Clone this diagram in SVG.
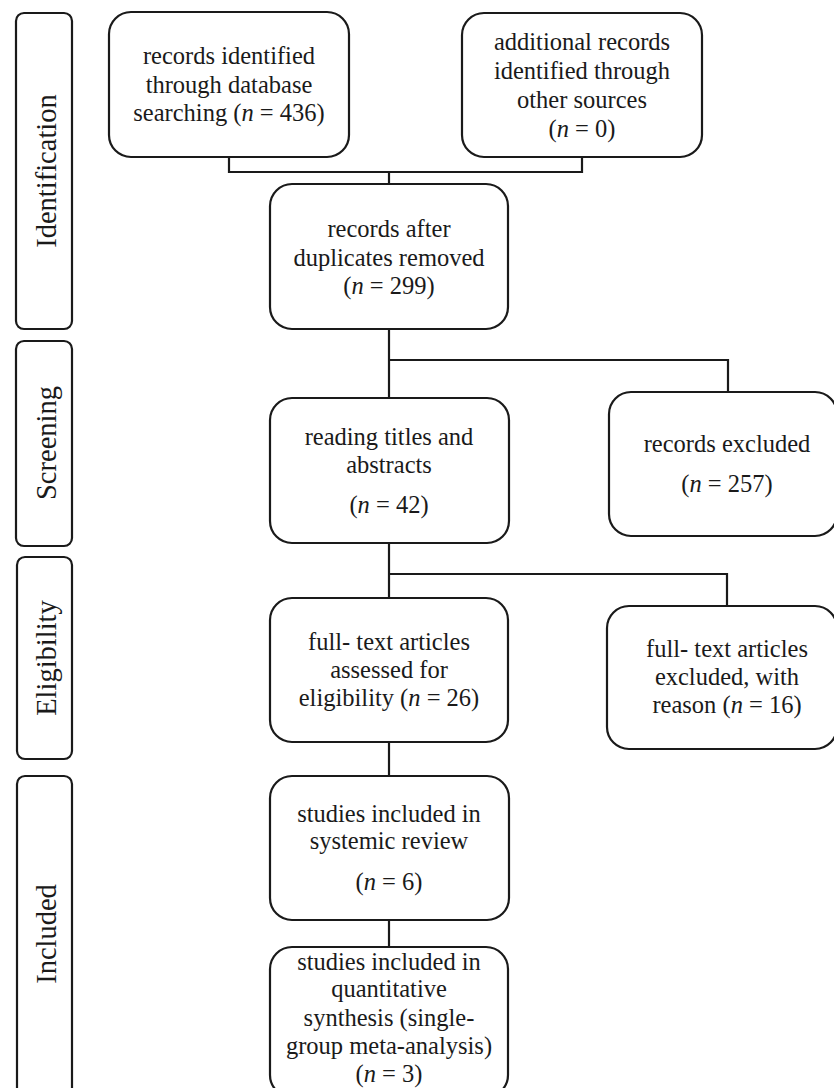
<svg xmlns="http://www.w3.org/2000/svg" width="834" height="1088" viewBox="0 0 834 1088" font-family="Liberation Serif, serif">
<style>
.box{fill:#fff;stroke:#1a1a1a;stroke-width:2.2}
.side{fill:#fff;stroke:#1a1a1a;stroke-width:2.2}
.t{font-size:24.5px;fill:#1a1a1a;text-anchor:middle}
.s{font-size:28.5px;fill:#1a1a1a;text-anchor:middle}
.i{font-style:italic}
.c{fill:none;stroke:#1a1a1a;stroke-width:2.2}
</style>
<rect width="834" height="1088" fill="#fff"/>
<g id="stage-identification">
<rect class="side" x="16" y="13" width="56" height="316" rx="8"/>
<text class="s" font-family="Liberation Serif, serif" transform="translate(56,171) rotate(-90)">Identification</text>
</g>
<g id="stage-screening">
<rect class="side" x="16" y="341" width="56" height="205" rx="8"/>
<text class="s" font-family="Liberation Serif, serif" transform="translate(56,443) rotate(-90)">Screening</text>
</g>
<g id="stage-eligibility">
<rect class="side" x="17" y="557" width="55" height="202" rx="8"/>
<text class="s" font-family="Liberation Serif, serif" transform="translate(56,658) rotate(-90)">Eligibility</text>
</g>
<g id="stage-included">
<rect class="side" x="17" y="776" width="55" height="330" rx="8"/>
<text class="s" font-family="Liberation Serif, serif" transform="translate(56,934) rotate(-90)">Included</text>
</g>
<g id="connectors">
<path class="c" d="M229,157 V172 H582 V157"/>
<path class="c" d="M389,172 V184"/>
<path class="c" d="M389,329 V398"/>
<path class="c" d="M389,360 H728 V392"/>
<path class="c" d="M389,543 V598"/>
<path class="c" d="M389,574 H727 V606"/>
<path class="c" d="M389,742 V776"/>
<path class="c" d="M389,920 V947"/>
</g>
<g id="n-database" font-family="Liberation Serif, serif">
<rect class="box" x="109" y="12" width="240" height="145" rx="22"/>
<text class="t" x="229" y="64">records identified</text>
<text class="t" x="229" y="93">through database</text>
<text class="t" x="229" y="121">searching (<tspan class="i">n</tspan> = 436)</text>
</g>
<g id="n-other" font-family="Liberation Serif, serif">
<rect class="box" x="462" y="13" width="240" height="144" rx="22"/>
<text class="t" x="582" y="50">additional records</text>
<text class="t" x="582" y="79">identified through</text>
<text class="t" x="582" y="108">other sources</text>
<text class="t" x="582" y="137">(<tspan class="i">n</tspan> = 0)</text>
</g>
<g id="n-dedup" font-family="Liberation Serif, serif">
<rect class="box" x="270" y="184" width="238" height="145" rx="22"/>
<text class="t" x="389" y="237">records after</text>
<text class="t" x="389" y="266">duplicates removed</text>
<text class="t" x="389" y="294">(<tspan class="i">n</tspan> = 299)</text>
</g>
<g id="n-screen" font-family="Liberation Serif, serif">
<rect class="box" x="270" y="398" width="239" height="145" rx="22"/>
<text class="t" x="389" y="445">reading titles and</text>
<text class="t" x="389" y="473">abstracts</text>
<text class="t" x="389" y="513">(<tspan class="i">n</tspan> = 42)</text>
</g>
<g id="n-excluded" font-family="Liberation Serif, serif">
<rect class="box" x="609" y="392" width="228" height="144" rx="22"/>
<text class="t" x="727" y="452">records excluded</text>
<text class="t" x="727" y="492">(<tspan class="i">n</tspan> = 257)</text>
</g>
<g id="n-fulltext" font-family="Liberation Serif, serif">
<rect class="box" x="270" y="598" width="238" height="144" rx="22"/>
<text class="t" x="389" y="650">full- text articles</text>
<text class="t" x="389" y="678">assessed for</text>
<text class="t" x="389" y="706">eligibility (<tspan class="i">n</tspan> = 26)</text>
</g>
<g id="n-ft-excluded" font-family="Liberation Serif, serif">
<rect class="box" x="607" y="606" width="230" height="143" rx="22"/>
<text class="t" x="727" y="657">full- text articles</text>
<text class="t" x="727" y="685">excluded, with</text>
<text class="t" x="727" y="713">reason (<tspan class="i">n</tspan> = 16)</text>
</g>
<g id="n-systemic" font-family="Liberation Serif, serif">
<rect class="box" x="270" y="776" width="239" height="144" rx="22"/>
<text class="t" x="389" y="822">studies included in</text>
<text class="t" x="389" y="849">systemic review</text>
<text class="t" x="389" y="890">(<tspan class="i">n</tspan> = 6)</text>
</g>
<g id="n-quant" font-family="Liberation Serif, serif">
<rect class="box" x="270" y="947" width="238" height="150" rx="22"/>
<text class="t" x="389" y="970">studies included in</text>
<text class="t" x="389" y="997">quantitative</text>
<text class="t" x="389" y="1026">synthesis (single-</text>
<text class="t" x="389" y="1054">group meta-analysis)</text>
<text class="t" x="389" y="1082">(<tspan class="i">n</tspan> = 3)</text>
</g>
</svg>
